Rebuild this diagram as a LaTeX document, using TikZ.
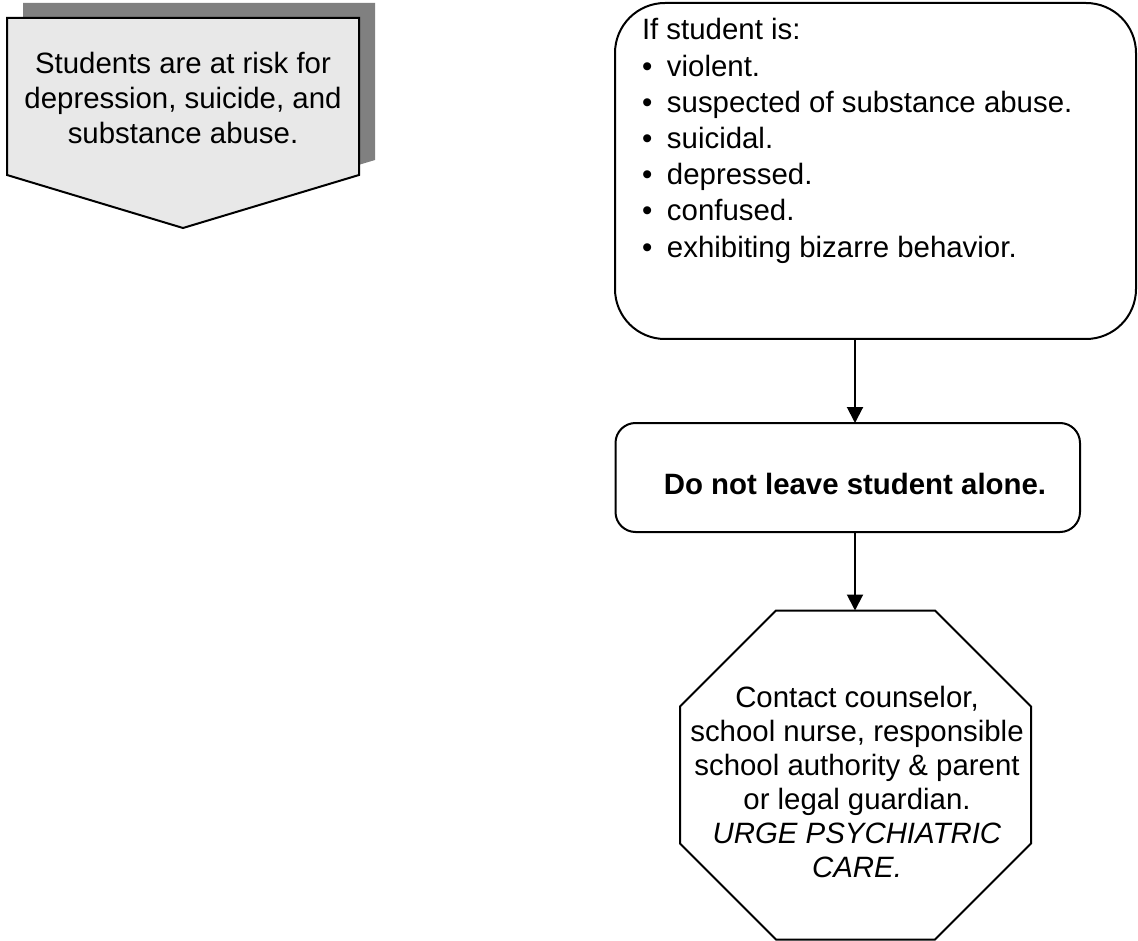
\documentclass[tikz,border=0pt]{standalone}
\usepackage{fontspec}
\setmainfont{Liberation Sans}
\usetikzlibrary{arrows.meta,calc}
\definecolor{pagefill}{HTML}{E8E8E8}
\definecolor{pageshadow}{HTML}{808080}
\begin{document}
\begin{tikzpicture}[x=1pt,y=-1pt,
  txt/.style={font=\fontsize{29.4}{35}\selectfont, inner sep=0pt, outer sep=0pt},
  outline/.style={draw=black, line width=2pt},
  roundbox/.style={outline, inner sep=0pt, outer sep=0pt},
  flow/.style={line width=2pt, -{Triangle[length=16pt,width=16pt]}},
]
\useasboundingbox (0,0) rectangle (1138,941);

% off-page connector with drop shadow
\fill[pageshadow] (23,3) -- (375,3) -- (375,160) -- (199,213) -- (23,160) -- cycle;
\filldraw[outline, fill=pagefill] (7,18) -- (359,18) -- (359,175) -- (183,228) -- (7,175) -- cycle;
\node[txt, align=center] (risk) at (183,97.5)
  {Students are at risk for\\depression, suicide, and\\substance abuse.};

% condition box
\node[roundbox, rounded corners=50pt, minimum width=521pt, minimum height=336pt] (cond) at (875.5,171) {};
\node[txt, anchor=north west, align=left, font=\fontsize{29.4}{36.2}\selectfont] (condtext) at (642,18.5)
  {If student is:\\
   \makebox[25pt][l]{\textbullet}violent.\\
   \makebox[25pt][l]{\textbullet}suspected of substance abuse.\\
   \makebox[25pt][l]{\textbullet}suicidal.\\
   \makebox[25pt][l]{\textbullet}depressed.\\
   \makebox[25pt][l]{\textbullet}confused.\\
   \makebox[25pt][l]{\textbullet}exhibiting bizarre behavior.};

% first action
\node[roundbox, rounded corners=20pt, minimum width=464.5pt, minimum height=109pt] (mid) at (847.75,477.5) {};
\node[txt, anchor=base, font=\fontsize{29.4}{35}\selectfont\bfseries] (midtext) at (855,494)
  {Do not leave student alone.};

% stop sign
\node[inner sep=0pt, outer sep=0pt, minimum width=351pt, minimum height=329pt] (oct) at (855.5,775) {};
\draw[outline, line join=miter]
  ($(oct.north west)+(96,0)$) -- ($(oct.north east)+(-96,0)$) --
  ($(oct.north east)+(0,96)$) -- ($(oct.south east)+(0,-96)$) --
  ($(oct.south east)+(-96,0)$) -- ($(oct.south west)+(96,0)$) --
  ($(oct.south west)+(0,-96)$) -- ($(oct.north west)+(0,96)$) -- cycle;
\node[txt, align=center, font=\fontsize{29.4}{34}\selectfont] (octtext) at (857,782)
  {Contact counselor,\\school nurse, responsible\\school authority \& parent\\or legal guardian.\\
   \textit{URGE PSYCHIATRIC}\\\textit{CARE.}};

% connectors
\draw[flow] (cond.south -| midtext.base) -- (mid.north -| midtext.base);
\draw[flow] (mid.south -| midtext.base) -- (oct.north -| midtext.base);
\end{tikzpicture}
\end{document}
